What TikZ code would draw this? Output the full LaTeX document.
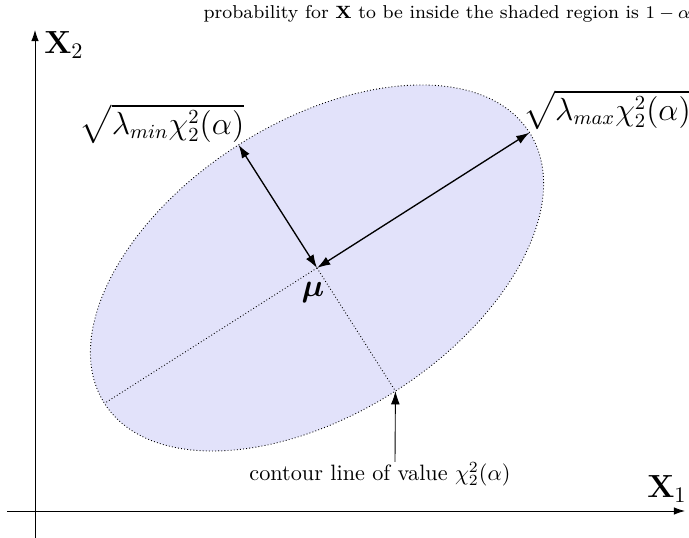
\documentclass[tikz,border=0pt]{standalone}
\usepackage{amsmath,bm}
\usetikzlibrary{arrows.meta,calc}
\definecolor{regionblue}{RGB}{226,226,250}
\tikzset{
  axis/.style={line width=0.4pt,-{Latex[length=5pt,width=3.4pt]}},
  radius/.style={line width=0.6pt,{Latex[length=6pt,width=4pt]}-{Latex[length=6pt,width=4pt]}},
  guide/.style={densely dotted,line width=0.4pt},
  pointer/.style={line width=0.4pt,-{Latex[length=6pt,width=4pt]}},
  lbl/.style={inner sep=0pt},
  biglbl/.style={inner sep=0pt,font=\fontsize{14}{16}\selectfont},
  rootlbl/.style={inner sep=0pt,font=\fontsize{13.4}{16}\selectfont}
}
\begin{document}
\begin{tikzpicture}[x=0.45pt,y=0.45pt]
\useasboundingbox (0,0) rectangle (689,538);
% axes
\coordinate (yb) at (35,0);
\coordinate (yt) at (35,508);
\coordinate (xl) at (7,27);
\coordinate (xr) at (685,27);
\draw[axis] (yb) -- (yt);
\draw[axis] (xl) -- (xr);
\node[biglbl] (x2) at (64,493) {$\mathbf{X}_2$};
\node[biglbl] (x1) at (667,49) {$\mathbf{X}_1$};
% ellipse
\coordinate (C) at (317,270);
\fill[regionblue] (C) ellipse[x radius=252, y radius=146, rotate=32.5];
\draw[guide] (C) ellipse[x radius=252, y radius=146, rotate=32.5];
\coordinate (A) at ($(C)+(32.5:252)$);
\coordinate (Ap) at ($(C)+(212.5:252)$);
\coordinate (B) at ($(C)+(122.5:146)$);
\coordinate (Bp) at ($(C)+(302.5:146)$);
\draw[guide] (C) -- (Ap);
\draw[guide] (C) -- (Bp);
\draw[radius] (C) -- (A);
\draw[radius] (C) -- (B);
\node[biglbl] (mu) at (313,245) {$\bm{\mu}$};
\node[rootlbl] (lmin) at (162,414) {$\sqrt{\lambda_{min}\chi^2_2(\alpha)}$};
\node[rootlbl] (lmax) at (607,428) {$\sqrt{\lambda_{max}\chi^2_2(\alpha)}$};
\node[lbl] (cont) at (380,64) {contour line of value $\chi^2_2(\alpha)$};
\node[lbl,font=\fontsize{8.4}{10}\selectfont] (title) at (447,524) {probability for $\mathbf{X}$ to be inside the shaded region is $1-\alpha$};
\coordinate (ct) at (395,76);
\draw[pointer] (ct) -- (Bp);
\end{tikzpicture}
\end{document}
